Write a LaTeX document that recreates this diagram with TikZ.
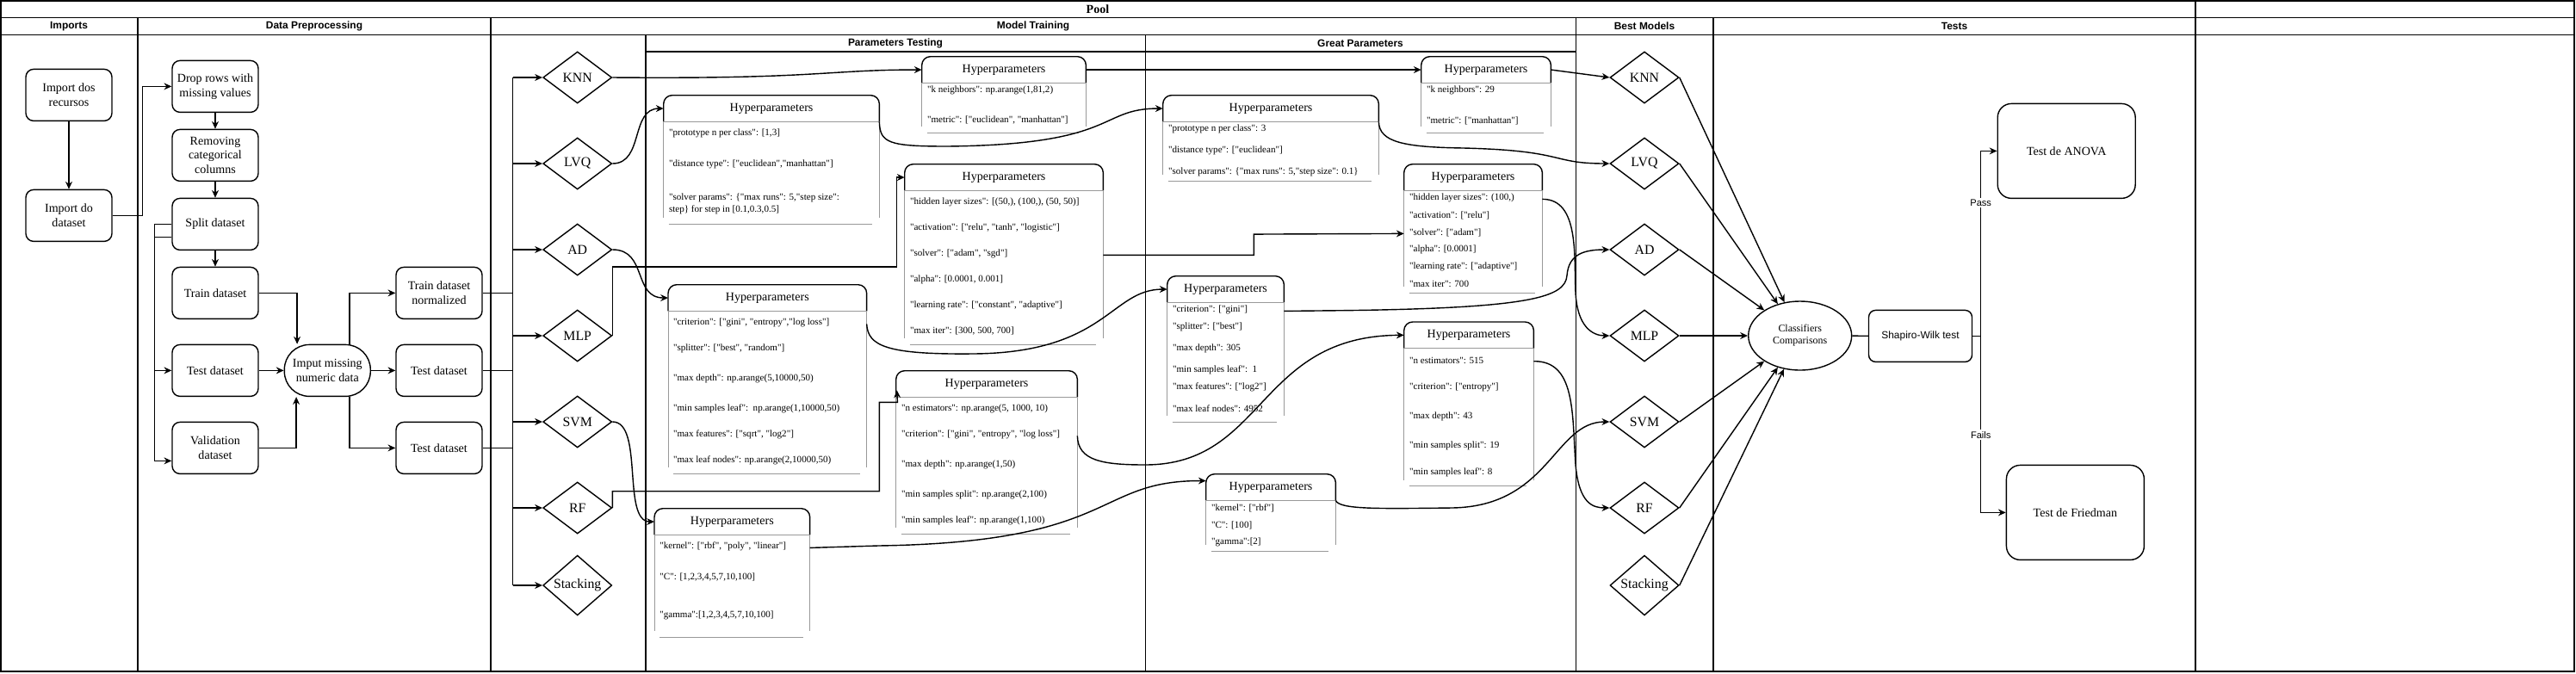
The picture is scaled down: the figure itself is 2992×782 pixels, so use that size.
\documentclass[tikz,border=0pt]{standalone}
\usepackage{fontspec}
\setmainfont{Liberation Serif}[Ligatures=TeXOff]
\setsansfont{Liberation Sans}
\usetikzlibrary{arrows.meta,shapes.geometric}

\tikzset{
  lane/.style={line width=0.8pt},
  lanehead/.style={font=\sffamily\bfseries\fontsize{6.8}{8}\selectfont, inner sep=0pt},
  stepbox/.style={draw, rounded corners=0.18cm, line width=0.8pt, minimum width=2cm,
    minimum height=1.2cm, align=center, inner sep=1pt, font=\fontsize{8}{9.6}\selectfont},
  modeldia/.style={draw, diamond, line width=0.8pt, minimum width=1.6cm,
    minimum height=1.2cm, inner sep=0pt, font=\fontsize{9}{10}\selectfont},
  hphead/.style={anchor=north west, minimum height=0.6cm, inner sep=0pt,
    font=\fontsize{8}{9}\selectfont},
  hpline/.style={line width=0.8pt, rounded corners=0.2cm},
  hpsep/.style={draw=black!40, line width=0.5pt},
  hpitem/.style={anchor=west, inner sep=0pt, align=left,
    font=\fontsize{6.3}{7.6}\selectfont},
  flow/.style={line width=0.8pt},
  link/.style={flow, -{Stealth[length=5pt,width=4.5pt]}},
  elabel/.style={fill=white, inner sep=1pt, font=\sffamily\fontsize{6.3}{7}\selectfont},
}

% frame of a Hyperparameters box: header outline, body sides, bottom rule
\newcommand{\hpframe}[2]{%
  \draw[hpline] (#1.south west) |- (#1.north) -| (#1.south east);
  \draw[hpsep] (#1.south west) -- (#1.south east)
    (#1.south west) -- ++(0,#2) (#1.south east) -- ++(0,#2);
  \path (#1.south west) ++(6,#2+7) coordinate (#1-bl)
        (#1.south east) ++(-8,#2+7) coordinate (#1-br);
  \draw[hpsep] (#1-bl) -- (#1-br);
}
% rows of a Hyperparameters box
\newcommand{\hpitems}[3]{%
  \foreach \y/\t [count=\i] in {#3} \node[hpitem] (#1-\i) at (#2,\y) {\t};
}

\begin{document}
\begin{tikzpicture}[x=0.02cm, y=-0.02cm]
\useasboundingbox (0,0) rectangle (2992,782);

% Pool and lanes
\draw[lane] (1,1) rectangle (2990,780);
\draw[lane] (1,20.7) -- (2990,20.7) (1,40.7) -- (2990,40.7) (750,60) -- (1830.7,60);
\draw[lane] (160,20.7) -- (160,780) (570,20.7) -- (570,780)
  (750,40.7) -- (750,780) (1330.7,40.7) -- (1330.7,780)
  (1830.7,20.7) -- (1830.7,780) (1990,20.7) -- (1990,780) (2550,1) -- (2550,780);
\node[font=\bfseries\fontsize{8}{9}\selectfont, inner sep=0pt] (hPool) at (1275,10.7) {Pool};
\node[lanehead] (hImports) at (80,30.7) {Imports};
\node[lanehead] (hPrep) at (365,30.7) {Data Preprocessing};
\node[lanehead] (hTrain) at (1200,30.7) {Model Training};
\node[lanehead] (hBest) at (1910,30.7) {Best Models};
\node[lanehead] (hTests) at (2270,30.7) {Tests};
\node[lanehead] (hParT) at (1040,50.4) {Parameters Testing};
\node[lanehead] (hParG) at (1580,50.4) {Great Parameters};

% Imports and preprocessing
\node[stepbox] (recursos) at (80,110.4) {Import dos\\recursos};
\node[stepbox] (dataset) at (80,250.4) {Import do\\dataset};
\node[stepbox] (drop) at (250,100.4) {Drop rows with\\missing values};
\node[stepbox] (removing) at (250,180.4) {Removing\\categorical\\columns};
\node[stepbox] (split) at (250,260.4) {Split dataset};
\node[stepbox] (train) at (250,340.4) {Train dataset};
\node[stepbox] (test) at (250,430.4) {Test dataset};
\node[stepbox] (valid) at (250,520.4) {Validation\\dataset};
\node[stepbox, rounded corners=0.58cm] (imput) at (380.3,430.4) {Imput missing\\numeric data};
\node[stepbox] (trainN) at (510,340.4) {Train dataset\\normalized};
\node[stepbox] (testN) at (510,430.4) {Test dataset};
\node[stepbox] (validN) at (510,520.4) {Test dataset};

\draw[link] (recursos) -- (dataset);
\draw[link] (dataset.east) -- ++(35,0) |- (drop.west);
\draw[link] (drop) -- (removing);
\draw[link] (removing) -- (split);
\draw[link] (split) -- (train);
\draw[link] (split.west) -- ++(-20,0) |- (test.west);
\draw[link] ([yshift=-0.3cm]split.west) -- ++(-20,0) |- ([yshift=-0.3cm]valid.west);
\draw[link] (train.east) -| ([xshift=0.31cm]imput.north west);
\draw[link] (test) -- (imput);
\draw[link] (valid.east) -| ([xshift=0.29cm]imput.south west);
\draw[link] ([xshift=-0.5cm]imput.north east) |- (trainN.west);
\draw[link] (imput) -- (testN);
\draw[link] ([xshift=-0.5cm]imput.south east) |- (validN.west);

% Models, in training and best
\foreach \n/\t/\y in {knn/KNN/90,lvq/LVQ/190,ad/AD/290,mlp/MLP/390,svm/SVM/490,rf/RF/590,stack/Stacking/680}{
  \node[modeldia] (\n-m) at (670.7,\y) {\t};
  \node[modeldia] (\n-b) at (1910,\y) {\t};
}
\coordinate (bus) at (595.7,90);
\draw[flow] (trainN.east) -- (trainN.east -| bus) (testN.east) -- (testN.east -| bus)
  (validN.east) -- (validN.east -| bus) (knn-m.west -| bus) -- (stack-m.west -| bus);
\foreach \n in {knn,lvq,ad,mlp,svm,rf,stack}
  \draw[link] (\n-m.west -| bus) -- (\n-m.west);

% Parameters testing
\node[hphead, minimum width=3.8cm] (knnT) at (1070.7,65.7) {Hyperparameters};
\hpframe{knnT}{51}
\hpitems{knnT}{1076.7}{105/{"k neighbors": np.arange(1,81,2)}, 140/{"metric": ["euclidean", "manhattan"]}}

\node[hphead, minimum width=5cm] (lvqT) at (770.7,110.7) {Hyperparameters};
\hpframe{lvqT}{112}
\hpitems{lvqT}{776.7}{155/{"prototype n per class": [1,3]}, 190.7/{"distance type": ["euclidean","manhattan"]},
  236.7/{"solver params": \{"max runs": 5,"step size":\\step\} for step in [0.1,0.3,0.5]}}

\node[hphead, minimum width=4.6cm] (mlpT) at (1050.7,190.7) {Hyperparameters};
\hpframe{mlpT}{172}
\hpitems{mlpT}{1056.7}{235/{"hidden layer sizes": [(50,), (100,), (50, 50)]},
  265/{"activation": ["relu", "tanh", "logistic"]}, 295/{"solver": ["adam", "sgd"]},
  325/{"alpha": [0.0001, 0.001]}, 355/{"learning rate": ["constant", "adaptive"]},
  385/{"max iter": [300, 500, 700]}}

\node[hphead, minimum width=4.6cm] (adT) at (776,330.7) {Hyperparameters};
\hpframe{adT}{182}
\hpitems{adT}{781.7}{375/{"criterion": ["gini", "entropy","log loss"]}, 405/{"splitter": ["best", "random"]},
  440/{"max depth": np.arange(5,10000,50)}, 475/{"min samples leaf":\ \ np.arange(1,10000,50)},
  505/{"max features": ["sqrt", "log2"]}, 535/{"max leaf nodes": np.arange(2,10000,50)}}

\node[hphead, minimum width=3.6cm] (svmT) at (760,590.7) {Hyperparameters};
\hpframe{svmT}{112}
\hpitems{svmT}{766}{635/{"kernel": ["rbf", "poly", "linear"]}, 670/{"C": [1,2,3,4,5,7,10,100]},
  715/{"gamma":[1,2,3,4,5,7,10,100]}}

\node[hphead, minimum width=4.2cm] (rfT) at (1040.7,430.7) {Hyperparameters};
\hpframe{rfT}{152}
\hpitems{rfT}{1046.7}{475/{"n estimators": np.arange(5, 1000, 10)},
  505/{"criterion": ["gini", "entropy", "log loss"]}, 540/{"max depth": np.arange(1,50)},
  575/{"min samples split": np.arange(2,100)}, 605/{"min samples leaf": np.arange(1,100)}}

% Great parameters
\node[hphead, minimum width=3cm] (knnG) at (1650.7,65.7) {Hyperparameters};
\hpframe{knnG}{51}
\hpitems{knnG}{1656.7}{105/{"k neighbors": 29}, 140/{"metric": ["manhattan"]}}

\node[hphead, minimum width=5cm] (lvqG) at (1350.7,110.7) {Hyperparameters};
\hpframe{lvqG}{62}
\hpitems{lvqG}{1356.7}{150/{"prototype n per class": 3}, 175/{"distance type": ["euclidean"]},
  200/{"solver params": \{"max runs": 5,"step size": 0.1\}}}

\node[hphead, minimum width=3.2cm] (mlpG) at (1630.7,190.7) {Hyperparameters};
\hpframe{mlpG}{112}
\hpitems{mlpG}{1636.7}{230/{"hidden layer sizes": (100,)}, 250/{"activation": ["relu"]},
  270/{"solver": ["adam"]}, 290/{"alpha": [0.0001]}, 310/{"learning rate": ["adaptive"]},
  330/{"max iter": 700}}

\node[hphead, minimum width=2.7cm] (adG) at (1355.7,320.7) {Hyperparameters};
\hpframe{adG}{132}
\hpitems{adG}{1361.7}{360/{"criterion": ["gini"]}, 380/{"splitter": ["best"]}, 405/{"max depth": 305},
  430/{"min samples leaf":\ \ 1}, 450/{"max features": ["log2"]}, 475/{"max leaf nodes": 4952}}

\node[hphead, minimum width=3cm] (rfG) at (1630.7,374) {Hyperparameters};
\hpframe{rfG}{153}
\hpitems{rfG}{1636.7}{419/{"n estimators": 515}, 450/{"criterion": ["entropy"]}, 484/{"max depth": 43},
  518/{"min samples split": 19}, 549/{"min samples leaf": 8}}

\node[hphead, minimum width=3cm] (svmG) at (1400.7,550.7) {Hyperparameters};
\hpframe{svmG}{52}
\hpitems{svmG}{1406.7}{590/{"kernel": ["rbf"]}, 610/{"C": [100]}, 630/{"gamma":[2]}}

% Models to tested parameters
\draw[link] (knn-m.east) .. controls (950,92) and (960,81) .. (knnT.west);
\draw[link] (lvq-m.east) .. controls (748,190) and (732,126) .. (lvqT.west);
\draw[link] (ad-m.east) .. controls (752,290) and (735,346) .. (adT.west);
\draw[link] (mlp-m.east) |- ++(330,-80) |- (mlpT.west);
\draw[link] (svm-m.east) .. controls (748,490) and (722,606) .. (svmT.west);
\draw[link] (rf-m.east) |- ++(310,-19.3) |- ++(21,-103.3) -- ([shift={(1,-8)}]rfT.south west);

% Tested to great parameters
\draw[link] (knnT.east) -- (knnG.west);
\draw[link] (lvqT.south east) .. controls (1022,166) and (1032,170) .. (1100,170)
  .. controls (1300,168) and (1275,126) .. (lvqG.west);
\draw[link] ([yshift=-1.5cm]mlpT.south east) -| ++(175,-24.3) -- ([yshift=-1cm]mlpG.south west);
\draw[link] ([yshift=-0.3cm]adT.south east) .. controls (1008,402) and (1030,412) .. (1130,411)
  .. controls (1285,410) and (1290,336) .. (adG.west);
\draw[link] ([yshift=-0.9cm]rfT.south east) .. controls (1252,535) and (1280,540) .. (1330,540)
  .. controls (1470,540) and (1460,390) .. (rfG.west);
\draw[link] ([yshift=-0.3cm]svmT.south east) -- (1020,634) .. controls (1300,630) and (1270,558)
  .. ([yshift=0.15cm]svmG.west);

% Great parameters to best models
\draw[link] (knnG.east) -- (knn-b.west);
\draw[link] (lvqG.south east) .. controls (1602,165) and (1630,171) .. (1700,172)
  .. controls (1820,175) and (1800,190) .. (lvq-b.west);
\draw[link] ([yshift=-0.2cm]mlpG.south east) .. controls (1835,231) and (1828,300) .. (1830,340)
  .. controls (1832,380) and (1850,390) .. (mlp-b.west);
\draw[link] ([yshift=-0.2cm]adG.south east) -- (1560,360.7) .. controls (1780,358) and (1818,345) .. (1820,320)
  .. controls (1822,295) and (1840,290) .. (ad-b.west);
\draw[link] ([yshift=-0.3cm]rfG.south east) .. controls (1830,419) and (1826,480) .. (1830,540)
  .. controls (1834,585) and (1850,590) .. (rf-b.west);
\draw[link] (svmG.south east) .. controls (1556,592) and (1600,591) .. (1687,590)
  .. controls (1800,588) and (1805,490) .. (svm-b.west);

% Tests
\node[draw, ellipse, line width=0.8pt, minimum width=2.4cm, minimum height=1.6cm, inner sep=0pt,
  align=center, font=\fontsize{6.8}{8}\selectfont] (cmp) at (2090.7,390) {Classifiers\\Comparisons};
\node[stepbox, minimum width=2.4cm, rounded corners=0.16cm, font=\sffamily\fontsize{6.8}{8}\selectfont]
  (shapiro) at (2230.5,390.4) {Shapiro-Wilk test};
\node[stepbox, minimum width=3.2cm, minimum height=2.2cm, rounded corners=0.32cm] (anova) at (2400.2,175.4) {Test de ANOVA};
\node[stepbox, minimum width=3.2cm, minimum height=2.2cm, rounded corners=0.32cm] (friedman) at (2410.4,595.4) {Test de Friedman};
\foreach \n in {knn,lvq,ad,mlp,svm,rf,stack}
  \draw[link] (\n-b.east) -- (cmp);
\draw[flow] (cmp) -- (shapiro);
\draw[link] (shapiro.east) -- ++(9.5,0) |- (anova.west) node[elabel, pos=0.36] {Pass};
\draw[link] (shapiro.east) -- ++(9.5,0) |- (friedman.west) node[elabel, pos=0.28] {Fails};
\end{tikzpicture}
\end{document}
